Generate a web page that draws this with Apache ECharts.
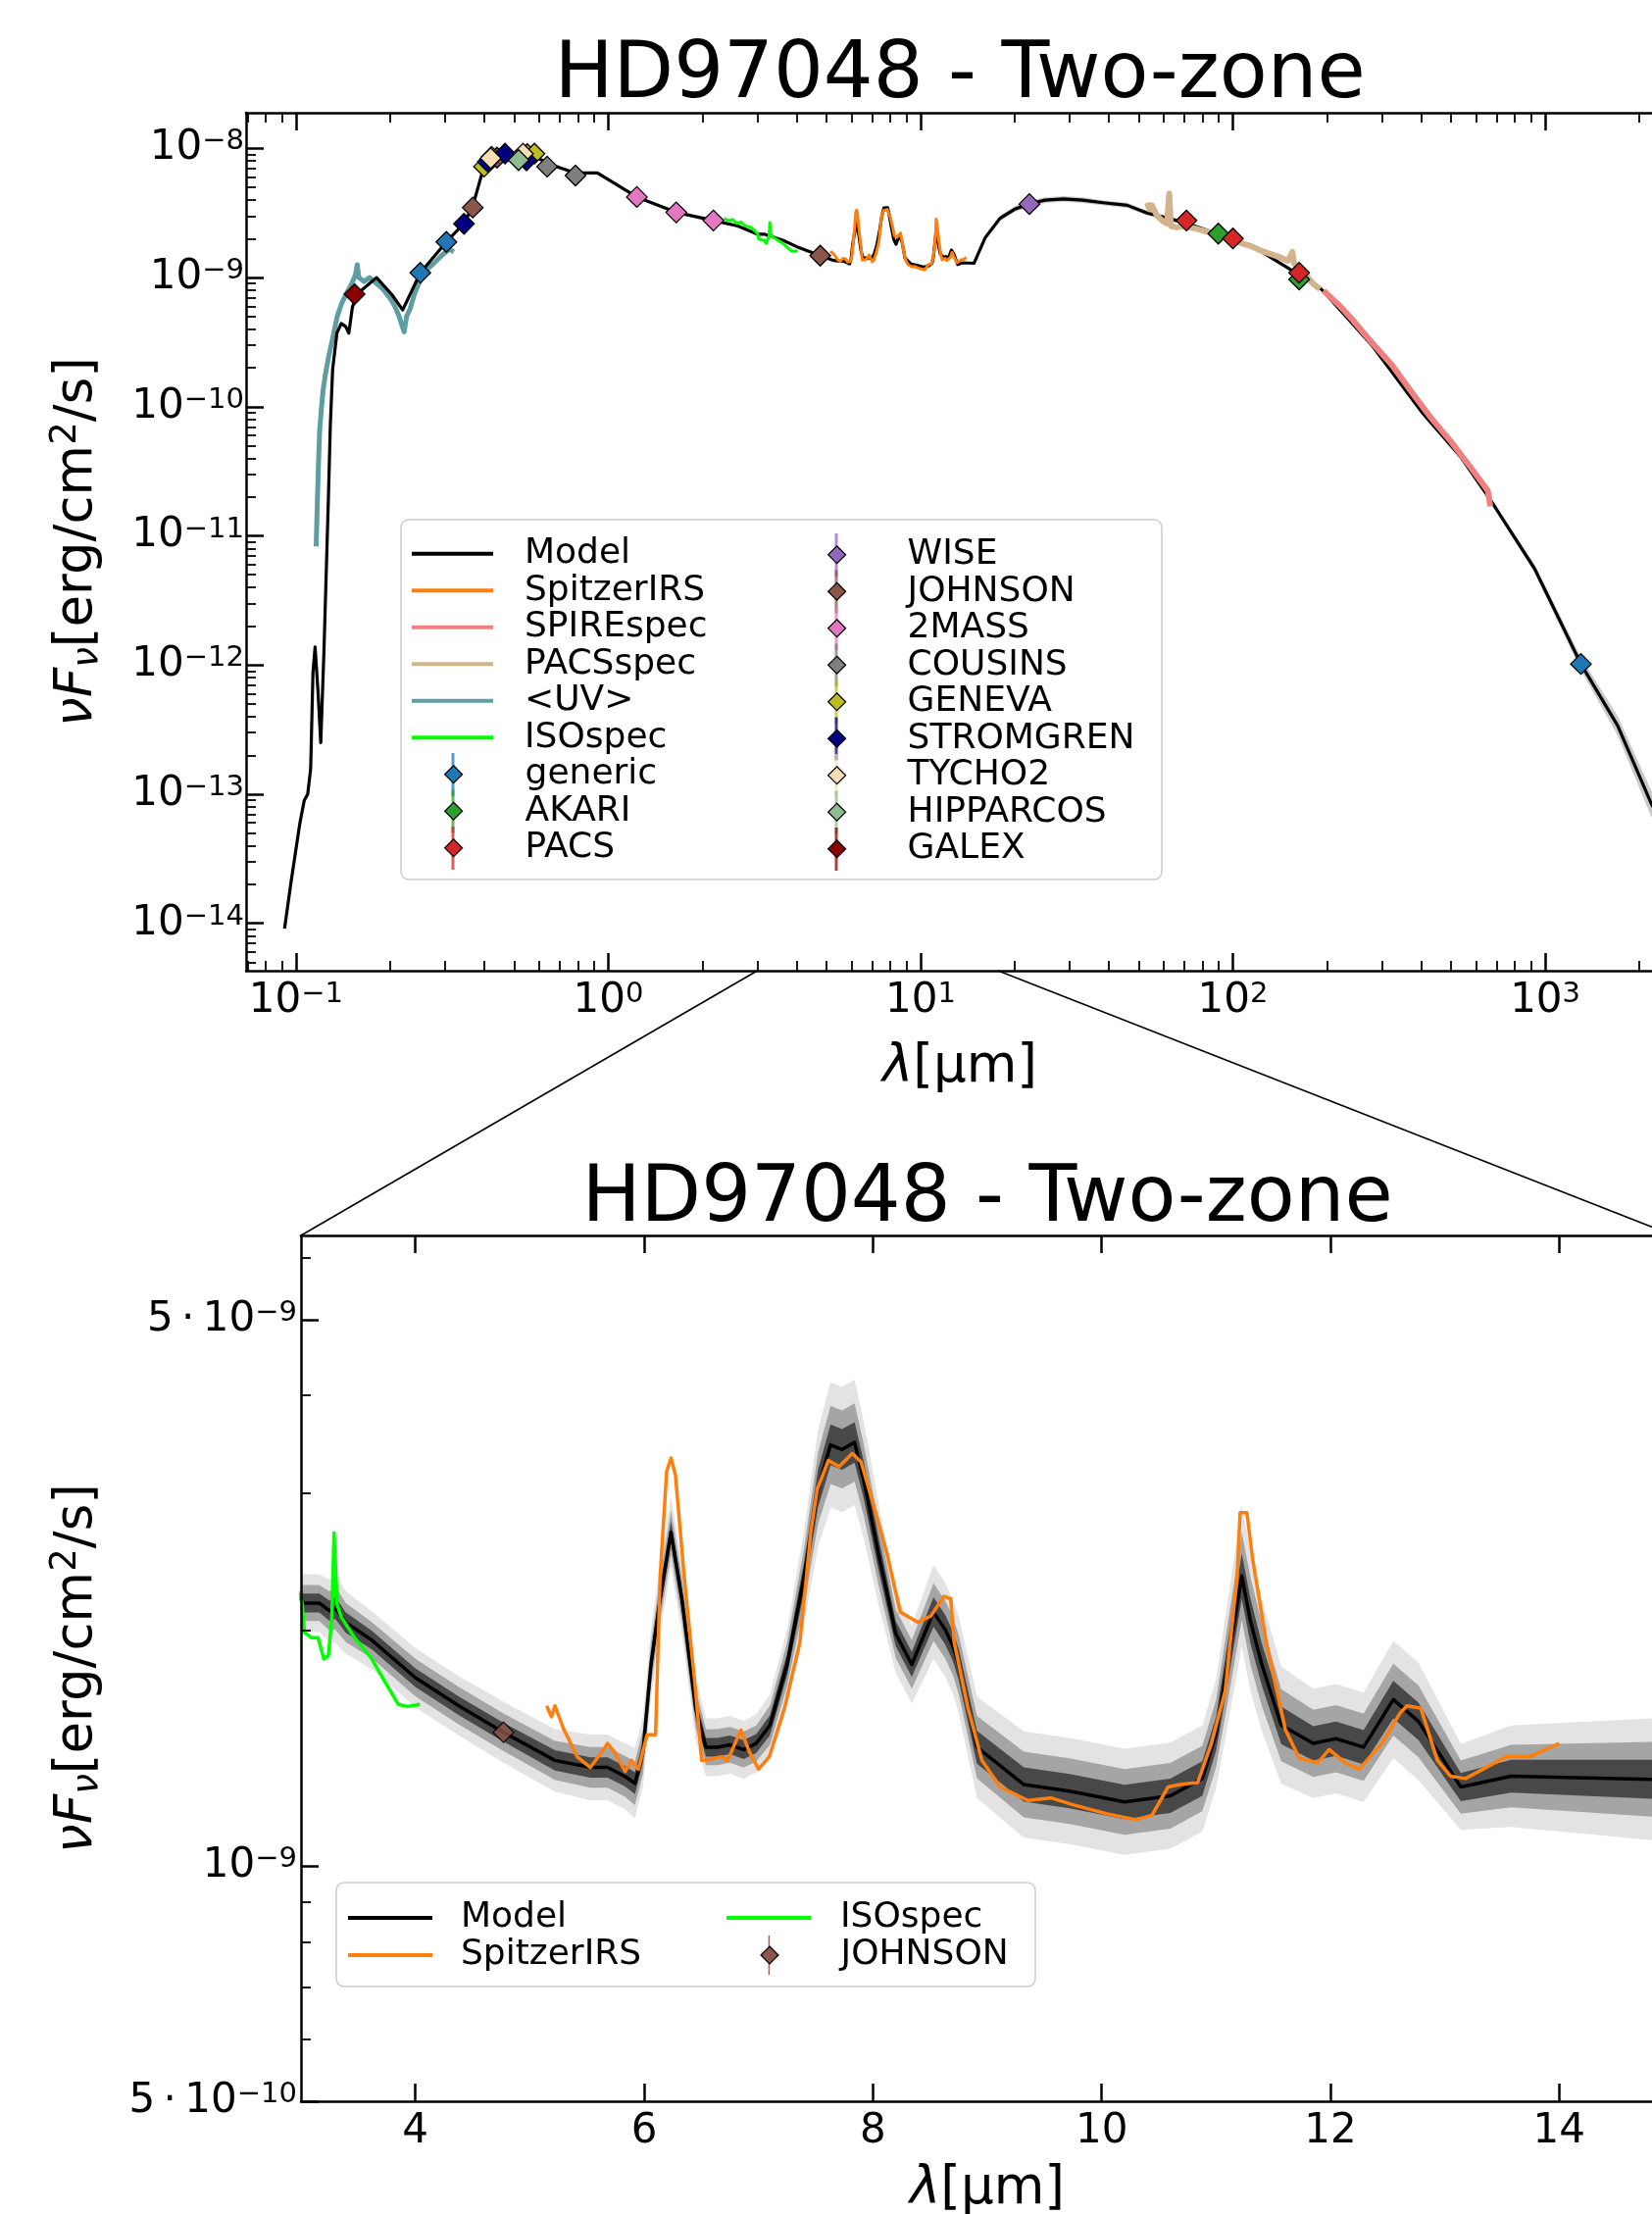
<!DOCTYPE html>
<html>
<head>
<meta charset="utf-8">
<title>HD97048 - Two-zone</title>
<script src="https://cdn.jsdelivr.net/npm/echarts@6/dist/echarts.min.js"></script>
<style>
  html, body { margin: 0; padding: 0; background: #fff; overflow: hidden; }
  #main { width: 1685px; height: 2258px; }
</style>
</head>
<body>
<div id="main"></div>
<script>
(function () {
    'use strict';
    var FONT = 'DejaVu Sans';

    // ---- model SED, UV to near-IR (um, erg/cm2/s) ----
    var modelUvLam = [0.0919, 0.0964, 0.1028, 0.1062, 0.109, 0.1114, 0.1133, 0.1151, 0.1177, 0.1200, 0.1228, 0.1256, 0.1270, 0.1288, 0.1310, 0.1352, 0.1396, 0.1443, 0.1476, 0.1515, 0.1564, 0.181, 0.2025, 0.2196, 0.250, 0.303, 0.344, 0.367, 0.398, 0.412, 0.469, 0.569, 0.646, 0.785, 0.923, 1.234, 1.65, 2.17, 2.6];
    var modelUvFlux = [9.12e-15, 2.09e-14, 5.89e-14, 8.91e-14, 1.0e-13, 1.58e-13, 8.71e-13, 1.38e-12, 6.03e-13, 2.51e-13, 1.23e-12, 7.94e-12, 2.0e-11, 7.24e-11, 1.95e-10, 3.72e-10, 4.42e-10, 4.17e-10, 3.72e-10, 5.89e-10, 7.41e-10, 1.0e-9, 7.41e-10, 5.62e-10, 1.09e-9, 1.89e-9, 2.61e-9, 3.49e-9, 7.0e-9, 8.13e-9, 9.12e-9, 8.91e-9, 7.59e-9, 6.46e-9, 6.46e-9, 4.21e-9, 3.20e-9, 2.77e-9, 2.51e-9];

    // ---- model SED, 3-15 um (also the zoom panel) ----
    var modelMidLam = [3.00, 3.16, 3.25, 3.30, 3.39, 3.62, 4.00, 4.38, 4.77, 5.22, 5.53, 5.68, 5.83, 5.92, 5.99, 6.06, 6.14, 6.235, 6.33, 6.45, 6.54, 6.64, 6.75, 6.87, 6.98, 7.10, 7.25, 7.40, 7.52, 7.63, 7.73, 7.84, 7.92, 8.05, 8.20, 8.34, 8.53, 8.63, 8.70, 8.75, 8.91, 9.32, 9.72, 10.2, 10.6, 10.88, 11.0, 11.10, 11.225, 11.30, 11.40, 11.57, 11.85, 12.05, 12.29, 12.55, 12.77, 13.14, 13.58, 14.82, 15.0];
    var modelMidFlux = [2.17e-9, 2.17e-9, 2.12e-9, 2.14e-9, 2.05e-9, 1.945e-9, 1.742e-9, 1.603e-9, 1.483e-9, 1.365e-9, 1.337e-9, 1.337e-9, 1.303e-9, 1.276e-9, 1.40e-9, 1.811e-9, 2.198e-9, 2.673e-9, 2.198e-9, 1.592e-9, 1.419e-9, 1.419e-9, 1.429e-9, 1.409e-9, 1.435e-9, 1.514e-9, 1.811e-9, 2.350e-9, 3.041e-9, 3.459e-9, 3.412e-9, 3.483e-9, 3.119e-9, 2.506e-9, 1.982e-9, 1.811e-9, 2.113e-9, 2.009e-9, 1.91e-9, 1.811e-9, 1.419e-9, 1.271e-9, 1.247e-9, 1.208e-9, 1.230e-9, 1.294e-9, 1.476e-9, 1.811e-9, 2.35e-9, 2.061e-9, 1.811e-9, 1.514e-9, 1.435e-9, 1.455e-9, 1.419e-9, 1.633e-9, 1.531e-9, 1.262e-9, 1.303e-9, 1.291e-9, 1.29e-9];
    // half widths (dex) of the three grey confidence bands
    var bandOuter = [0.037, 0.037, 0.040, 0.045, 0.040, 0.037, 0.038, 0.038, 0.039, 0.040, 0.042, 0.042, 0.042, 0.045, 0.045, 0.045, 0.045, 0.045, 0.045, 0.040, 0.037, 0.037, 0.037, 0.037, 0.037, 0.040, 0.045, 0.060, 0.075, 0.080, 0.080, 0.080, 0.075, 0.065, 0.050, 0.050, 0.060, 0.060, 0.060, 0.062, 0.065, 0.068, 0.068, 0.068, 0.068, 0.068, 0.070, 0.080, 0.090, 0.090, 0.085, 0.075, 0.070, 0.070, 0.070, 0.075, 0.075, 0.055, 0.065, 0.078, 0.079];
    var bandMiddle = [0.023, 0.023, 0.025, 0.028, 0.025, 0.023, 0.024, 0.024, 0.024, 0.025, 0.026, 0.026, 0.026, 0.028, 0.028, 0.028, 0.028, 0.028, 0.028, 0.025, 0.023, 0.023, 0.023, 0.023, 0.023, 0.025, 0.028, 0.037, 0.046, 0.050, 0.050, 0.050, 0.046, 0.040, 0.031, 0.031, 0.037, 0.037, 0.037, 0.038, 0.040, 0.042, 0.042, 0.042, 0.042, 0.042, 0.043, 0.050, 0.056, 0.056, 0.053, 0.046, 0.043, 0.043, 0.043, 0.046, 0.046, 0.034, 0.040, 0.048, 0.049];
    var bandInner = [0.012, 0.012, 0.013, 0.014, 0.013, 0.012, 0.012, 0.012, 0.012, 0.013, 0.013, 0.013, 0.013, 0.014, 0.014, 0.014, 0.014, 0.014, 0.014, 0.013, 0.012, 0.012, 0.012, 0.012, 0.012, 0.013, 0.014, 0.019, 0.024, 0.026, 0.026, 0.026, 0.024, 0.021, 0.016, 0.016, 0.019, 0.019, 0.019, 0.020, 0.021, 0.022, 0.022, 0.022, 0.022, 0.022, 0.022, 0.026, 0.029, 0.029, 0.027, 0.024, 0.022, 0.022, 0.022, 0.024, 0.024, 0.018, 0.021, 0.025, 0.025];

    // ---- model SED, far-IR / sub-mm ----
    var modelFirLam = [16.1, 17.96, 20.0, 22.3, 25.0, 28.7, 33.0, 38.4, 45.9, 53.1, 62.0, 71, 91.4, 118, 163, 192, 280, 402, 537, 667, 923, 1301, 1706, 2183, 2600];
    var modelFirFlux = [2.04e-9, 2.88e-9, 3.39e-9, 3.72e-9, 3.98e-9, 4.07e-9, 3.98e-9, 3.80e-9, 3.63e-9, 3.16e-9, 2.88e-9, 2.63e-9, 2.14e-9, 1.70e-9, 1.05e-9, 8.13e-10, 2.95e-10, 9.12e-11, 4.07e-11, 1.91e-11, 5.62e-12, 1.02e-12, 3.39e-13, 8.51e-14, 3.98e-14];
    // half widths (dex) of the grey spread around the far-IR model
    var bandFir = [0.022, 0.022, 0.022, 0.022, 0.022, 0.022, 0.022, 0.020, 0.020, 0.018, 0.016, 0.015, 0.013, 0.012, 0.010, 0.010, 0.010, 0.012, 0.015, 0.020, 0.032, 0.050, 0.075, 0.100, 0.120];

    // ---- spectra ----
    var uvLam = [0.116, 0.117, 0.118, 0.119, 0.1205, 0.122, 0.124, 0.127, 0.131, 0.1355, 0.140, 0.1445, 0.150, 0.155, 0.157, 0.159, 0.165, 0.172, 0.180, 0.190, 0.200, 0.207, 0.214, 0.219, 0.222, 0.226, 0.232, 0.240, 0.250, 0.262, 0.279, 0.295, 0.310, 0.320];
    var uvFlux = [8.3e-12, 1.78e-11, 3.55e-11, 6.46e-11, 9.55e-11, 1.32e-10, 1.74e-10, 2.40e-10, 3.39e-10, 5.01e-10, 6.31e-10, 7.41e-10, 8.71e-10, 1.05e-9, 1.26e-9, 1.00e-9, 9.33e-10, 1.00e-9, 9.12e-10, 8.13e-10, 6.92e-10, 6.03e-10, 5.01e-10, 4.17e-10, 3.80e-10, 5.01e-10, 5.75e-10, 7.59e-10, 9.55e-10, 1.15e-9, 1.32e-9, 1.51e-9, 1.66e-9, 1.58e-9];

    var isoLam = [2.35, 2.42, 2.50, 2.58, 2.66, 2.75, 2.86, 2.95, 3.01, 3.03, 3.09, 3.149, 3.20, 3.24, 3.27, 3.289, 3.316, 3.354, 3.468, 3.62, 3.735, 3.85, 3.93, 4.04];
    var isoFlux = [2.88e-9, 2.75e-9, 2.82e-9, 2.63e-9, 2.69e-9, 2.51e-9, 2.45e-9, 2.29e-9, 2.17e-9, 1.99e-9, 1.96e-9, 1.96e-9, 1.84e-9, 1.86e-9, 2.08e-9, 2.67e-9, 2.16e-9, 2.08e-9, 1.96e-9, 1.84e-9, 1.72e-9, 1.61e-9, 1.60e-9, 1.61e-9];

    var irsLam = [5.148, 5.19, 5.22, 5.30, 5.415, 5.53, 5.644, 5.68, 5.74, 5.834, 5.89, 5.95, 6.026, 6.10, 6.14, 6.197, 6.235, 6.274, 6.35, 6.446, 6.503, 6.54, 6.674, 6.73, 6.846, 6.92, 7.0, 7.095, 7.228, 7.362, 7.457, 7.515, 7.611, 7.706, 7.82, 7.896, 8.01, 8.125, 8.24, 8.392, 8.507, 8.621, 8.68, 8.711, 8.832, 8.953, 9.114, 9.355, 9.556, 9.757, 10.038, 10.30, 10.44, 10.58, 10.68, 10.84, 10.96, 11.08, 11.185, 11.21, 11.27, 11.32, 11.44, 11.607, 11.727, 11.888, 11.99, 12.13, 12.25, 12.45, 12.61, 12.67, 12.79, 12.935, 13.05, 13.18, 13.538, 13.74, 14.0];
    var irsFlux = [1.603e-9, 1.552e-9, 1.603e-9, 1.493e-9, 1.380e-9, 1.337e-9, 1.409e-9, 1.435e-9, 1.400e-9, 1.321e-9, 1.365e-9, 1.330e-9, 1.472e-9, 1.472e-9, 2.350e-9, 3.199e-9, 3.327e-9, 3.162e-9, 2.350e-9, 1.698e-9, 1.365e-9, 1.365e-9, 1.380e-9, 1.365e-9, 1.493e-9, 1.400e-9, 1.330e-9, 1.380e-9, 1.592e-9, 1.932e-9, 2.673e-9, 3.041e-9, 3.304e-9, 3.243e-9, 3.373e-9, 3.289e-9, 2.884e-9, 2.506e-9, 2.113e-9, 2.051e-9, 2.089e-9, 2.213e-9, 2.198e-9, 1.932e-9, 1.592e-9, 1.365e-9, 1.262e-9, 1.213e-9, 1.222e-9, 1.197e-9, 1.167e-9, 1.146e-9, 1.161e-9, 1.262e-9, 1.271e-9, 1.279e-9, 1.435e-9, 1.675e-9, 2.350e-9, 2.831e-9, 2.831e-9, 2.472e-9, 1.932e-9, 1.493e-9, 1.374e-9, 1.355e-9, 1.409e-9, 1.355e-9, 1.330e-9, 1.435e-9, 1.570e-9, 1.603e-9, 1.592e-9, 1.365e-9, 1.303e-9, 1.294e-9, 1.380e-9, 1.380e-9, 1.435e-9];

    var pacsSpecLam = [53.1, 54.0, 55.0, 57.1, 59.5, 61.5, 62.5, 63.3, 66, 70, 76, 84, 91.4, 102, 115, 126, 140, 150, 155, 157, 170, 181, 190];
    var pacsSpecFlux = [3.80e-9, 3.39e-9, 3.63e-9, 3.02e-9, 2.75e-9, 2.63e-9, 4.47e-9, 2.51e-9, 2.45e-9, 2.51e-9, 2.40e-9, 2.24e-9, 2.14e-9, 1.91e-9, 1.74e-9, 1.58e-9, 1.45e-9, 1.35e-9, 1.58e-9, 1.29e-9, 1.07e-9, 8.91e-10, 8.13e-10];

    var spireLam = [195, 220, 242, 280, 324, 374, 432, 499, 577, 655, 667];
    var spireFlux = [7.94e-10, 6.03e-10, 4.68e-10, 3.09e-10, 2.09e-10, 1.29e-10, 8.13e-11, 5.37e-11, 3.39e-11, 2.24e-11, 1.70e-11];

    // ---- photometry ----
    var genericLam = [0.25, 0.303, 1301];
    var genericFlux = [1.09e-9, 1.89e-9, 1.02e-12];
    var akariLam = [89.8, 163];
    var akariFlux = [2.19e-9, 9.68e-10];
    var pacsLam = [71, 100, 163];
    var pacsFlux = [2.77e-9, 2.01e-9, 1.09e-9];
    var wiseLam = [22.3];
    var wiseFlux = [3.71e-9];
    var johnsonLam = [0.368, 0.44, 0.55, 4.77];
    var johnsonFlux = [3.49e-9, 8.5e-9, 9.0e-9, 1.48e-9];
    var twoMassLam = [1.234, 1.65, 2.17];
    var twoMassFlux = [4.21e-9, 3.20e-9, 2.77e-9];
    var cousinsLam = [0.637, 0.785];
    var cousinsFlux = [7.24e-9, 6.17e-9];
    var genevaLam = [0.40, 0.423, 0.551, 0.58];
    var genevaFlux = [7.24e-9, 8.6e-9, 9.0e-9, 9.12e-9];
    var stromgrenLam = [0.345, 0.411, 0.467, 0.547];
    var stromgrenFlux = [2.61e-9, 7.9e-9, 9.12e-9, 8.1e-9];
    var tychoLam = [0.42, 0.533];
    var tychoFlux = [8.4e-9, 9.1e-9];
    var hipparcosLam = [0.516];
    var hipparcosFlux = [8.13e-9];
    var galexLam = [0.154];
    var galexFlux = [7.44e-10];
    var zoomJohnsonLam = [4.77];
    var zoomJohnsonFlux = [1.483e-9];

    // ---- axes ----
    var topXMin = 0.0692, topXMax = 2576;
    var topYMin = 4.30e-15, topYMax = 1.89e-8;
    var botXMin = 3, botXMax = 15;
    var botYMin = 5e-10, botYMax = 6.41e-9;
    var topXMajor = [0.1, 1, 10, 100, 1000];
    var topYMajor = [1e-14, 1e-13, 1e-12, 1e-11, 1e-10, 1e-9, 1e-8];
    var botXMajor = [4, 6, 8, 10, 12, 14];
    var botYMajor = [5e-10, 1e-9, 5e-9];
    var botYMinor = [6e-10, 7e-10, 8e-10, 9e-10, 2e-9, 3e-9, 4e-9, 6e-9];
    var minorMult = [2, 3, 4, 5, 6, 7, 8, 9];
    var insetFromLam = [3.0, 17.7];

    var lineNames = ['Model', 'SpitzerIRS', 'SPIREspec', 'PACSspec', '<UV>', 'ISOspec'];
    var barNamesA = ['generic', 'AKARI', 'PACS'];
    var barNamesB = ['WISE', 'JOHNSON', '2MASS', 'COUSINS', 'GENEVA', 'STROMGREN', 'TYCHO2', 'HIPPARCOS', 'GALEX'];
    var colors = {
        'Model': '#000000', 'SpitzerIRS': '#ff7f0e', 'SPIREspec': '#f08080', 'PACSspec': '#d2b48c',
        '<UV>': '#5f9ea0', 'ISOspec': '#00ff00',
        'generic': '#1f77b4', 'AKARI': '#2ca02c', 'PACS': '#d62728', 'WISE': '#9467bd',
        'JOHNSON': '#8c564b', '2MASS': '#e377c2', 'COUSINS': '#7f7f7f', 'GENEVA': '#bcbd22',
        'STROMGREN': '#000080', 'TYCHO2': '#f5deb3', 'HIPPARCOS': '#8fbc8f', 'GALEX': '#8b0000'
    };

    function minorTicks(lo, hi) {
        var out = [];
        for (var e = -16; e <= 4; e++) {
            minorMult.forEach(function (m) {
                var v = m * Math.pow(10, e);
                if (v > lo && v < hi) out.push(v);
            });
        }
        return out;
    }

    function pairs(xs, ys) {
        return xs.map(function (x, i) { return [x, ys[i]]; });
    }

    function powLabel(v) {
        var e = Math.floor(Math.log10(v) + 1e-6);
        var m = Math.round(v / Math.pow(10, e));
        var exp = (e < 0 ? '\u2212' : '') + Math.abs(e);
        return (m === 1 ? '{b|10}' : '{b|' + m + '\u2009\u00b7\u200910}') + '{s|' + exp + '}';
    }

    var tickRich = {
        b: { fontFamily: FONT, fontSize: 42, lineHeight: 42, color: '#000' },
        s: { fontFamily: FONT, fontSize: 29, lineHeight: 24, verticalAlign: 'top', color: '#000' }
    };
    var nameRich = {
        i: { fontFamily: FONT, fontSize: 53, fontStyle: 'italic', lineHeight: 60, color: '#000' },
        r: { fontFamily: FONT, fontSize: 53, lineHeight: 60, color: '#000' },
        sub: { fontFamily: FONT, fontSize: 37, fontStyle: 'italic', lineHeight: 36, verticalAlign: 'bottom', color: '#000' },
        sup: { fontFamily: FONT, fontSize: 37, lineHeight: 30, verticalAlign: 'top', color: '#000' }
    };
    var xName = '{i|\u03bb}{r|[\u03bcm]}';
    var yName = '{i|\u03bdF}{sub|\u03bd}{r|[erg/cm}{sup|2}{r|/s]}';

    function makeAxis(o) {
        var ax = {
            type: o.type, gridIndex: o.grid, position: o.pos, min: o.min, max: o.max, z: 10,
            axisLine: { show: !!o.line, onZero: false, lineStyle: { color: '#000', width: 2.5 } },
            axisTick: {
                show: true, inside: true, customValues: o.ticks, length: o.minor ? 10 : 18,
                lineStyle: { color: '#000', width: o.minor ? 1.8 : 2.5 }
            },
            axisLabel: { show: false },
            splitLine: { show: false },
            minorTick: { show: false },
            minorSplitLine: { show: false },
            axisPointer: { show: false },
            silent: true
        };
        if (o.type === 'log') ax.logBase = 10;
        if (o.labels) {
            ax.axisLabel = {
                show: true, customValues: o.ticks, margin: o.margin, color: '#000',
                fontFamily: FONT, fontSize: 42, rich: tickRich,
                formatter: o.formatter || function (v) { return '{b|' + v + '}'; }
            };
        }
        if (o.name) {
            ax.name = o.name;
            ax.nameLocation = 'middle';
            ax.nameGap = o.nameGap;
            ax.nameMoveOverlap = false;
            ax.nameTextStyle = { fontFamily: FONT, fontSize: 53, color: '#000', lineHeight: 60, rich: nameRich };
        }
        return ax;
    }

    var topXMinor = minorTicks(topXMin, topXMax);
    var topYMinor = minorTicks(topYMin, topYMax);

    var xAxes = [
        makeAxis({ type: 'log', grid: 0, pos: 'bottom', min: topXMin, max: topXMax, ticks: topXMajor, line: true, labels: true, margin: 10, formatter: powLabel, name: xName, nameGap: 69 }),
        makeAxis({ type: 'log', grid: 0, pos: 'bottom', min: topXMin, max: topXMax, ticks: topXMinor, minor: true }),
        makeAxis({ type: 'log', grid: 0, pos: 'top', min: topXMin, max: topXMax, ticks: topXMajor, line: true }),
        makeAxis({ type: 'log', grid: 0, pos: 'top', min: topXMin, max: topXMax, ticks: topXMinor, minor: true }),
        makeAxis({ type: 'value', grid: 1, pos: 'bottom', min: botXMin, max: botXMax, ticks: botXMajor, line: true, labels: true, margin: 10, name: xName, nameGap: 60 }),
        makeAxis({ type: 'value', grid: 1, pos: 'top', min: botXMin, max: botXMax, ticks: botXMajor, line: true })
    ];
    var yAxes = [
        makeAxis({ type: 'log', grid: 0, pos: 'left', min: topYMin, max: topYMax, ticks: topYMajor, line: true, labels: true, margin: 2, formatter: powLabel, name: yName, nameGap: 142 }),
        makeAxis({ type: 'log', grid: 0, pos: 'left', min: topYMin, max: topYMax, ticks: topYMinor, minor: true }),
        makeAxis({ type: 'log', grid: 0, pos: 'right', min: topYMin, max: topYMax, ticks: topYMajor, line: true }),
        makeAxis({ type: 'log', grid: 0, pos: 'right', min: topYMin, max: topYMax, ticks: topYMinor, minor: true }),
        makeAxis({ type: 'log', grid: 1, pos: 'left', min: botYMin, max: botYMax, ticks: botYMajor, line: true, labels: true, margin: 4, formatter: powLabel, name: yName, nameGap: 198 }),
        makeAxis({ type: 'log', grid: 1, pos: 'left', min: botYMin, max: botYMax, ticks: botYMinor, minor: true }),
        makeAxis({ type: 'log', grid: 1, pos: 'right', min: botYMin, max: botYMax, ticks: botYMajor, line: true }),
        makeAxis({ type: 'log', grid: 1, pos: 'right', min: botYMin, max: botYMax, ticks: botYMinor, minor: true })
    ];

    function lineSeries(name, xs, ys, width, xi, yi) {
        return {
            name: name, type: 'line', xAxisIndex: xi, yAxisIndex: yi, data: pairs(xs, ys),
            color: colors[name], symbol: 'none', showSymbol: false, silent: true, z: 2,
            lineStyle: { color: colors[name], width: width, join: 'round' }
        };
    }
    function pointSeries(name, xs, ys, xi, yi, opacity) {
        return {
            name: name, type: 'scatter', xAxisIndex: xi, yAxisIndex: yi, data: pairs(xs, ys),
            color: colors[name], symbol: 'diamond', symbolSize: 21, silent: true, z: 5,
            itemStyle: { color: colors[name], borderColor: '#000', borderWidth: 1.3, opacity: opacity || 1 }
        };
    }
    // grey envelopes around the model, drawn as polygons through the axes
    function bandSeries(lams, fluxes, layers, xi, yi) {
        return {
            type: 'custom', xAxisIndex: xi, yAxisIndex: yi, clip: true, silent: true, z: 1,
            data: [[lams[0], fluxes[0]]],
            renderItem: function (params, api) {
                return {
                    type: 'group',
                    children: layers.map(function (l) {
                        var up = [], lo = [];
                        for (var i = 0; i < lams.length; i++) {
                            var f = Math.pow(10, l[0][i]);
                            up.push(api.coord([lams[i], fluxes[i] * f]));
                            lo.unshift(api.coord([lams[i], fluxes[i] / f]));
                        }
                        return { type: 'polygon', shape: { points: up.concat(lo) }, style: { fill: l[1] } };
                    })
                };
            }
        };
    }

    var modelLam = modelUvLam.concat(modelMidLam, modelFirLam);
    var modelFlux = modelUvFlux.concat(modelMidFlux, modelFirFlux);

    var series = [
        bandSeries(modelFirLam, modelFirFlux, [[bandFir, '#c8c8c8']], 0, 0),
        lineSeries('<UV>', uvLam, uvFlux, 5, 0, 0),
        lineSeries('Model', modelLam, modelFlux, 3.2, 0, 0),
        lineSeries('SpitzerIRS', irsLam, irsFlux, 3, 0, 0),
        lineSeries('SPIREspec', spireLam, spireFlux, 6, 0, 0),
        lineSeries('PACSspec', pacsSpecLam, pacsSpecFlux, 6, 0, 0),
        lineSeries('ISOspec', isoLam, isoFlux, 3, 0, 0),
        pointSeries('generic', genericLam, genericFlux, 0, 0),
        pointSeries('AKARI', akariLam, akariFlux, 0, 0),
        pointSeries('PACS', pacsLam, pacsFlux, 0, 0),
        pointSeries('WISE', wiseLam, wiseFlux, 0, 0),
        pointSeries('JOHNSON', johnsonLam, johnsonFlux, 0, 0),
        pointSeries('2MASS', twoMassLam, twoMassFlux, 0, 0),
        pointSeries('COUSINS', cousinsLam, cousinsFlux, 0, 0),
        pointSeries('GENEVA', genevaLam, genevaFlux, 0, 0),
        pointSeries('STROMGREN', stromgrenLam, stromgrenFlux, 0, 0),
        pointSeries('TYCHO2', tychoLam, tychoFlux, 0, 0),
        pointSeries('HIPPARCOS', hipparcosLam, hipparcosFlux, 0, 0),
        pointSeries('GALEX', galexLam, galexFlux, 0, 0),
        // zoom panel
        bandSeries(modelMidLam, modelMidFlux, [[bandOuter, '#e3e3e3'], [bandMiddle, '#a5a5a5'], [bandInner, '#484848']], 4, 4),
        lineSeries('Model', modelMidLam, modelMidFlux, 3.5, 4, 4),
        lineSeries('SpitzerIRS', irsLam, irsFlux, 3.5, 4, 4),
        lineSeries('ISOspec', isoLam, isoFlux, 3.5, 4, 4),
        pointSeries('JOHNSON', zoomJohnsonLam, zoomJohnsonFlux, 4, 4, 0.8)
    ];

    function legendText(pad, lh) {
        return { fontFamily: FONT, fontSize: 36, color: '#000', lineHeight: lh, padding: [0, 0, 0, pad] };
    }
    function legendBlock(names, left, top, lineIcon, pad, lh) {
        return {
            orient: 'vertical', left: left, top: top, padding: 0, itemGap: 0, selectedMode: false,
            itemWidth: lineIcon ? lineIcon : 18, itemHeight: lineIcon ? 4 : 18,
            icon: lineIcon ? 'rect' : 'diamond', data: names, textStyle: legendText(pad, lh),
            itemStyle: lineIcon ? { borderWidth: 0 } : { borderColor: '#000', borderWidth: 1.2 }
        };
    }

    var option = {
        animation: false,
        backgroundColor: '#ffffff',
        textStyle: { fontFamily: FONT },
        title: [
            { text: 'HD97048 - Two-zone', left: 979, top: 33, textAlign: 'center', padding: 0,
              textStyle: { fontFamily: FONT, fontSize: 80, fontWeight: 'normal', color: '#000', lineHeight: 90 } },
            { text: 'HD97048 - Two-zone', left: 1007, top: 1179, textAlign: 'center', padding: 0,
              textStyle: { fontFamily: FONT, fontSize: 80, fontWeight: 'normal', color: '#000', lineHeight: 90 } }
        ],
        grid: [
            { left: 251, top: 115, width: 1456, height: 875, containLabel: false, outerBoundsMode: 'none' },
            { left: 307, top: 1260, width: 1400, height: 883, containLabel: false, outerBoundsMode: 'none' }
        ],
        legend: [
            legendBlock(lineNames, 420, 546, 83, 27, 37.5),
            legendBlock(barNamesA, 453, 771, 0, 59, 37.5),
            legendBlock(barNamesB, 844, 547, 0, 58, 37.5),
            legendBlock(['Model', 'SpitzerIRS'], 355, 1937, 86, 24, 38),
            legendBlock(['ISOspec'], 741, 1937, 86, 25, 38),
            legendBlock(['JOHNSON'], 775.4, 1975, 0, 58.6, 38)
        ],
        xAxis: xAxes,
        yAxis: yAxes,
        series: series
    };

    var myChart = echarts.init(document.getElementById('main'));
    myChart.setOption(option);

    // legend frames, error-bar strokes of the legend handles, zoom connectors
    var graphics = [
        { type: 'rect', z: 3, shape: { x: 409, y: 530, width: 776, height: 367, r: 8 },
          style: { fill: 'rgba(255,255,255,0.8)', stroke: '#cccccc', lineWidth: 1.5 } },
        { type: 'rect', z: 3, shape: { x: 343, y: 1920, width: 713, height: 106, r: 8 },
          style: { fill: 'rgba(255,255,255,0.8)', stroke: '#cccccc', lineWidth: 1.5 } }
    ];
    barNamesA.forEach(function (n, i) {
        var cy = 790 + 37.5 * i;
        graphics.push({ type: 'line', z: 3, z2: 5, shape: { x1: 462, y1: cy - 22, x2: 462, y2: cy + 22 },
            style: { stroke: colors[n], lineWidth: 3, opacity: 0.75 } });
    });
    barNamesB.forEach(function (n, i) {
        var cy = 566 + 37.5 * i;
        graphics.push({ type: 'line', z: 3, z2: 5, shape: { x1: 853, y1: cy - 22, x2: 853, y2: cy + 22 },
            style: { stroke: colors[n], lineWidth: 3, opacity: 0.75 } });
    });
    graphics.push({ type: 'line', z: 3, z2: 5, shape: { x1: 784.4, y1: 1974, x2: 784.4, y2: 2014 },
        style: { stroke: colors['JOHNSON'], lineWidth: 1.5, opacity: 0.9 } });

    var a0 = myChart.convertToPixel({ xAxisIndex: 0, yAxisIndex: 0 }, [insetFromLam[0], topYMin]);
    var a1 = myChart.convertToPixel({ xAxisIndex: 0, yAxisIndex: 0 }, [insetFromLam[1], topYMin]);
    var b0 = myChart.convertToPixel({ xAxisIndex: 4, yAxisIndex: 4 }, [botXMin, botYMax]);
    var b1 = myChart.convertToPixel({ xAxisIndex: 4, yAxisIndex: 4 }, [botXMax, botYMax]);
    graphics.push({ type: 'line', z: 6, shape: { x1: a0[0], y1: a0[1], x2: b0[0], y2: b0[1] }, style: { stroke: '#000', lineWidth: 1.6 } });
    graphics.push({ type: 'line', z: 6, shape: { x1: a1[0], y1: a1[1], x2: b1[0], y2: b1[1] }, style: { stroke: '#000', lineWidth: 1.6 } });

    myChart.setOption({ graphic: graphics });
}());
</script>
</body>
</html>
